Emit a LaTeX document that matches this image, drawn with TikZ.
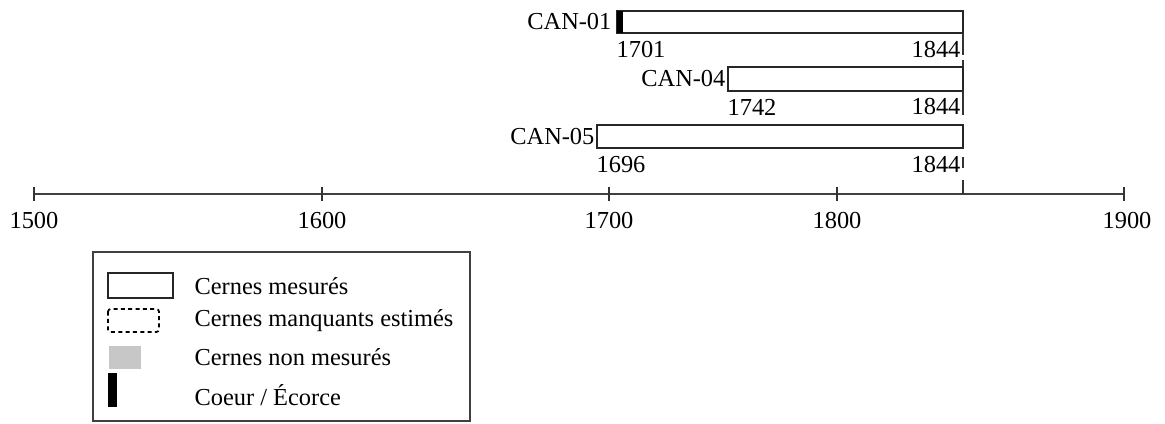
\documentclass[tikz,border=0pt]{standalone}
\usepackage{fontspec}
\setmainfont{Liberation Serif}
\usetikzlibrary{positioning}

\begin{document}
\begin{tikzpicture}[x=0.75pt, y=-0.75pt,
    barstyle/.style={draw=black!85, line width=1.4pt, fill=white},
    axisstyle/.style={draw=black!75, line width=2pt},
    tickstyle/.style={draw=black!80, line width=1.1pt},
    lbl/.style={font=\fontsize{18.3}{20}\selectfont, inner sep=1pt}]
  \useasboundingbox (0,0) rectangle (1165,424);

  % time axis
  \coordinate (A0) at (34,194);
  \coordinate (A1) at (1124,194);
  \draw[axisstyle] (A0) -- (A1);
  \coordinate (t1500) at (34,194);
  \coordinate (t1600) at (322,194);
  \coordinate (t1700) at (609,194);
  \coordinate (t1800) at (837,194);
  \coordinate (t1900) at (1124,194);
  \coordinate (t1844) at (963,194);
  \draw[tickstyle] (t1500) ++(0,-7) -- ++(0,14);
  \draw[tickstyle] (t1600) ++(0,-7) -- ++(0,14);
  \draw[tickstyle] (t1700) ++(0,-7) -- ++(0,14);
  \draw[tickstyle] (t1800) ++(0,-7) -- ++(0,14);
  \draw[tickstyle] (t1900) ++(0,-7) -- ++(0,14);
  \draw[tickstyle] (t1844) -- ++(0,-14);
  \node[lbl] (y1500) at (34,221) {1500};
  \node[lbl] (y1600) at (322,221) {1600};
  \node[lbl] (y1700) at (609,221) {1700};
  \node[lbl] (y1800) at (837,221) {1800};
  \node[lbl] (y1900) at (1127,221) {1900};

  % series
  \draw[barstyle] (617,11) rectangle (963,33);
  \fill[black] (617,11) rectangle (623,33);
  \node[lbl, anchor=east] (can01) at (613,22) {CAN-01};
  \node[lbl, anchor=west] (can01s) at (615,50) {1701};
  \node[lbl, anchor=east] (can01e) at (962,50) {1844};

  \draw[barstyle] (728,67) rectangle (963,91);
  \node[lbl, anchor=east] (can04) at (727,79) {CAN-04};
  \node[lbl, anchor=west] (can04s) at (726,107) {1742};
  \node[lbl, anchor=east] (can04e) at (962,107) {1844};

  \draw[barstyle] (597,125) rectangle (963,148);
  \node[lbl, anchor=east] (can05) at (596,137) {CAN-05};
  \node[lbl, anchor=west] (can05s) at (595,165) {1696};
  \node[lbl, anchor=east] (can05e) at (962,165) {1844};

  % end line 1844
  \draw[tickstyle] (963,33) -- (963,55);
  \draw[tickstyle] (963,60) -- (963,67);
  \draw[tickstyle] (963,91) -- (963,115);
  \draw[tickstyle] (963,157) -- (963,168);

  % legend
  \draw[line width=1.2pt, draw=black!75] (93,252) rectangle (470,421);
  \draw[draw=black!85, line width=1.4pt] (108,273) rectangle (173,298);
  \draw[draw=black, line width=1.3pt, dash pattern=on 3pt off 2.5pt,
        rounded corners=2pt] (108,309) rectangle (159,332);
  \fill[black!22] (109,346) rectangle (141,369);
  \fill[black] (108,373) rectangle (117,407);
  \node[lbl, anchor=west] (leg1) at (193,286) {Cernes mesurés};
  \node[lbl, anchor=west] (leg2) at (193,321) {Cernes manquants estimés};
  \node[lbl, anchor=west] (leg3) at (193,357) {Cernes non mesurés};
  \node[lbl, anchor=west] (leg4) at (193,395) {Coeur / Écorce};
\end{tikzpicture}
\end{document}
